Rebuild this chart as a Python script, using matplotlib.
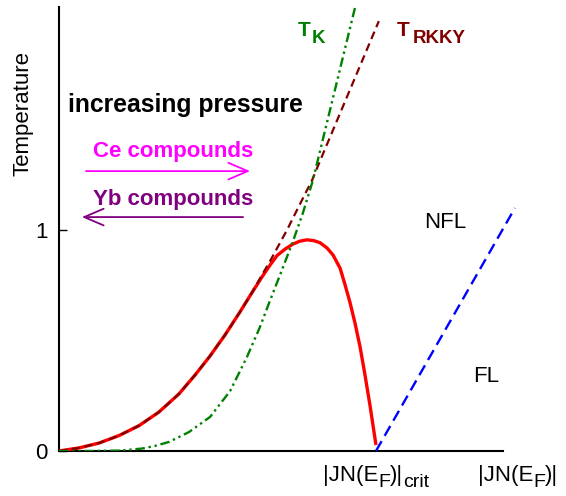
import numpy as np
import matplotlib
matplotlib.use('Agg')
from matplotlib import pyplot as plt

plt.rcParams['font.family'] = ['Liberation Sans', 'DejaVu Sans']
plt.rcParams['mathtext.default'] = 'regular'

# data (x in units of |JN(E_F)|_crit)
rkky_x = [0, 0.063, 0.126, 0.189, 0.252, 0.314, 0.377, 0.428, 0.475, 0.522, 0.569,
          0.604, 0.638, 0.664, 0.717, 0.758, 0.796, 0.830, 1.006]
rkky_y = [0, 0.014, 0.036, 0.070, 0.115, 0.176, 0.258, 0.344, 0.430, 0.525, 0.629,
          0.710, 0.796, 0.860, 1.000, 1.118, 1.226, 1.344, 1.946]

kondo_x = [0, 0.104, 0.192, 0.261, 0.302, 0.346, 0.409, 0.475, 0.538, 0.591, 0.632,
           0.657, 0.695, 0.736, 0.767, 0.796, 0.811, 0.931]
kondo_y = [0, 0, 0.002, 0.011, 0.023, 0.041, 0.086, 0.154, 0.271, 0.425, 0.561,
           0.656, 0.796, 0.950, 1.077, 1.213, 1.299, 2.007]

neel_x = [0, 0.063, 0.126, 0.189, 0.252, 0.314, 0.377, 0.428, 0.475, 0.522, 0.569,
          0.604, 0.638, 0.664, 0.686, 0.711, 0.736, 0.758, 0.780, 0.802, 0.821,
          0.843, 0.862, 0.884, 0.899, 0.915, 0.931, 0.947, 0.962, 0.978, 0.997]
neel_y = [0, 0.014, 0.036, 0.070, 0.115, 0.176, 0.258, 0.344, 0.430, 0.525, 0.629,
          0.710, 0.787, 0.842, 0.885, 0.914, 0.937, 0.950, 0.956, 0.952, 0.943,
          0.919, 0.887, 0.828, 0.756, 0.674, 0.579, 0.471, 0.348, 0.208, 0.027]

fl_x = [0.997, 1.434]
fl_y = [0, 1.10]

ytick_vals = [0, 1]
ytick_labels = ['0', '1']

fig = plt.figure(figsize=(5.66, 4.96), dpi=100)
ax = fig.add_axes([59/566, 45/496, 461/566, 444/496])
ax.set_xlim(0, 1.45)
ax.set_ylim(0, 2.01)

ax.plot(neel_x, neel_y, color='#ff0000', lw=2.4, solid_capstyle='butt', zorder=3)
ax.plot(rkky_x, rkky_y, color='#800000', lw=1.6, linestyle=(0, (3.6, 2.2)), zorder=4)
ax.plot(kondo_x, kondo_y, color='#008000', lw=1.7,
        linestyle=(0, (4, 1.6, 1, 1.6, 1, 1.6)), zorder=4)
ax.plot(fl_x, fl_y, color='#0000ff', lw=1.7, linestyle=(0, (4.8, 2.6)),
        clip_on=False, zorder=4)

# axes
for s in ['top', 'right']:
    ax.spines[s].set_visible(False)
ax.spines['left'].set_linewidth(1.5)
ax.spines['bottom'].set_linewidth(1.5)
ax.spines['bottom'].set_bounds(0, 1.396)
ax.set_xticks([])
ax.set_yticks(ytick_vals)
ax.set_yticklabels(ytick_labels)
ax.tick_params(axis='y', direction='in', length=6, width=1, pad=8, labelsize=16)
ax.set_ylabel('Temperature', fontsize=16)
ax.yaxis.set_label_coords(-0.056, 0.761)

# labels
ax.text(0.028, 1.534, 'increasing pressure', fontsize=17.8, fontweight='bold')
ax.text(0.107, 1.330, 'Ce compounds', fontsize=16, fontweight='bold', color='#ff00ff')
ax.text(0.107, 1.113, 'Yb compounds', fontsize=16, fontweight='bold', color='#800080')
ax.annotate('', xy=(0.601, 1.267), xytext=(0.085, 1.267),
            arrowprops=dict(arrowstyle='->,head_length=0.7,head_width=0.3',
                            color='#ff00ff', lw=1.3, shrinkA=0, shrinkB=0,
                            mutation_scale=20))
ax.annotate('', xy=(0.072, 1.059), xytext=(0.579, 1.059),
            arrowprops=dict(arrowstyle='->,head_length=0.7,head_width=0.3',
                            color='#800080', lw=1.3, shrinkA=0, shrinkB=0,
                            mutation_scale=20))

ax.text(0.752, 1.878, 'T', fontsize=15, fontweight='bold', color='#008000')
ax.text(0.796, 1.846, 'K', fontsize=13.5, fontweight='bold', color='#008000')
ax.text(1.063, 1.878, 'T', fontsize=15, fontweight='bold', color='#800000')
ax.text(1.113, 1.846, 'RKKY', fontsize=13.5, fontweight='bold', color='#800000')

ax.text(1.214, 1.036, 'NFL', fontsize=16, ha='center', va='center')
ax.text(1.343, 0.335, 'FL', fontsize=16, ha='center', va='center')


def jn_label(x, parts):
    # pieces of text, subscripts lowered but kept at a similar size
    prev = ax.text(x, -0.135, parts[0][0], fontsize=16, clip_on=False)
    level = 0
    for txt, sub in parts[1:]:
        dy = (-3.5 if sub else 0) - level
        prev = ax.annotate(txt, xy=(1, 0), xycoords=prev, xytext=(0, dy),
                           textcoords='offset points', fontsize=14 if sub else 16,
                           va='bottom', annotation_clip=False)
        level = -3.5 if sub else 0


jn_label(0.830, [('|JN(E', False), ('F', True), (')|', False), ('crit', True)])
jn_label(1.317, [('|JN(E', False), ('F', True), (')|', False)])

fig.savefig('out.png', dpi=100)
